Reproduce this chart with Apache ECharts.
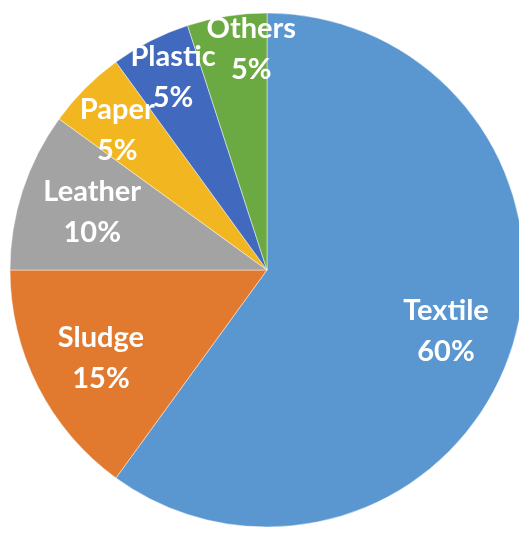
<!DOCTYPE html>
<html>
<head>
<meta charset="utf-8">
<script src="https://cdn.jsdelivr.net/npm/echarts@6/dist/echarts.min.js"></script>
<style>
html, body { margin: 0; padding: 0; background: #fff; }
#chart { width: 519px; height: 533px; }
</style>
</head>
<body>
<div id="chart"></div>
<script>
// data
var categories = ['Textile', 'Sludge', 'Leather', 'Paper', 'Plastic', 'Others'];
var shares = [60, 15, 10, 5, 5, 5];
var colors = ['#5A97D1', '#E17A2F', '#A3A3A3', '#F1B620', '#4169BE', '#6BAA42'];
// label placement: part of the radius, and a small turn in degrees
var labelRatio = [0.724, 0.72, 0.705, 0.785, 0.822, 0.85];
var labelTurn = [0.8, -1, 0.4, -2, 1, 5];

var R = 257;
var total = shares.reduce(function (a, b) { return a + b; }, 0);

// mid angle of every slice, clockwise from 12 o'clock
var midAngles = [];
var acc = 0;
shares.forEach(function (v) {
    midAngles.push((acc + v / 2) / total * Math.PI * 2);
    acc += v;
});

var chart = echarts.init(document.getElementById('chart'));
var option = {
    animation: false,
    series: [
        {
            type: 'pie',
            center: [267, 270],
            radius: [0, R],
            startAngle: 90,
            clockwise: true,
            data: categories.map(function (name, i) {
                return { name: name, value: shares[i], itemStyle: { color: colors[i] } };
            }),
            itemStyle: {
                borderColor: 'rgba(255,255,255,0.45)',
                borderWidth: 1
            },
            label: {
                position: 'inside',
                formatter: '{b}\n{d}%',
                color: '#fff',
                fontFamily: 'Lato, "Noto Sans", sans-serif',
                fontWeight: 'bold',
                fontSize: 29,
                lineHeight: 41
            },
            labelLine: { show: false },
            labelLayout: function (params) {
                var i = params.dataIndex;
                var a = midAngles[i] + labelTurn[i] * Math.PI / 180;
                var r = labelRatio[i] * R;
                var half = 0.5 * R;
                return {
                    dx: Math.sin(a) * r - Math.sin(midAngles[i]) * half,
                    dy: -Math.cos(a) * r + Math.cos(midAngles[i]) * half
                };
            }
        }
    ]
};
chart.setOption(option);
</script>
</body>
</html>
